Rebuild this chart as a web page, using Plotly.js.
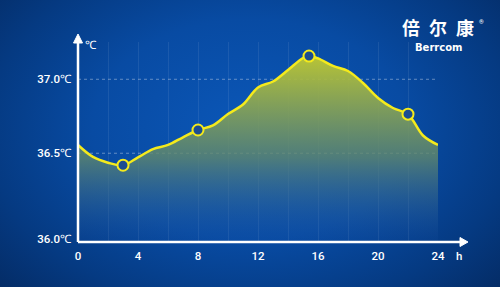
<!DOCTYPE html>
<html>
<head>
<meta charset="utf-8">
<script src="https://cdn.plot.ly/plotly-3.0.1.min.js"></script>
<style>
  html, body { margin:0; padding:0; width:500px; height:287px; overflow:hidden; }
  body { background: radial-gradient(ellipse 70% 85% at 50% 45%, #0b57b8 0%, #084ba3 45%, #053a82 75%, #042a62 100%); }
  #chart { width:500px; height:287px; }
</style>
</head>
<body>
<div id="chart"></div>
<script>
// Data (hour of day vs body temperature, °C)
const hours = [0,1,2,3,4,5,6,7,8,9,10,11,12,13,14,15,15.4,16,17,18,19,20,21,22,23,24];
const temps = [36.556,36.475,36.436,36.419,36.472,36.528,36.556,36.608,36.657,36.688,36.765,36.830,36.945,36.985,37.063,37.144,37.157,37.141,37.090,37.056,36.975,36.874,36.806,36.764,36.620,36.556];
const markerHours = [3, 8, 15.4, 22];
const markerTemps = [36.419, 36.657, 37.157, 36.764];
const xTickVals = [0,4,8,12,16,20,24];
const xTickText = ['0','4','8','12','16','20','24'];
const yTickVals = [35.92, 36.5, 37.0];
const yTickText = ['36.0℃','36.5℃','37.0℃'];
const gridLevels = [36.5, 37.0];

const W = 500, H = 287, L = 78, R = 62, T = 42, B = 45;
const pw = W - L - R, ph = H - T - B;
const px = v => (v - L) / pw;      // pixel -> paper x
const py = v => (H - B - v) / ph;  // pixel -> paper y

const font = {family: 'Roboto, "Open Sans", sans-serif', color: '#ffffff', size: 11.5, weight: 500};

const traces = [
  {
    x: hours, y: temps, type: 'scatter', mode: 'lines',
    line: {color: '#f4ea1c', width: 2.5, shape: 'spline', smoothing: 1.0},
    fill: 'tozeroy',
    fillgradient: {type: 'vertical', start: 35.9, stop: 37.16,
      colorscale: [[0,'rgba(30,85,170,0.08)'],[0.45,'rgba(95,135,110,0.80)'],[1,'rgba(190,200,50,0.97)']]},
    hoverinfo: 'skip'
  },
  {
    x: markerHours, y: markerTemps, type: 'scatter', mode: 'markers',
    marker: {symbol: 'circle', size: 11, color: '#1b4c92', line: {color: '#f4ea1c', width: 2}},
    hoverinfo: 'skip'
  }
];

const shapes = [];
gridLevels.forEach(g => shapes.push({type:'line', xref:'x', yref:'y', x0:0, x1:24, y0:g, y1:g,
  line:{color:'rgba(190,205,230,0.5)', width:1, dash:'dot'}, layer:'below'}));
// axes with arrows
shapes.push({type:'line', xref:'paper', yref:'paper', x0:px(78), x1:px(462), y0:0, y1:0, line:{color:'#ffffff', width:2.5}});
shapes.push({type:'path', xref:'paper', yref:'paper',
  path:`M ${px(460)} ${py(237.5)} L ${px(468)} ${py(242)} L ${px(460)} ${py(246.5)} Z`,
  fillcolor:'#ffffff', line:{color:'#ffffff', width:1}});
shapes.push({type:'line', xref:'paper', yref:'paper', x0:0, x1:0, y0:0, y1:py(40), line:{color:'#ffffff', width:2.5}});
shapes.push({type:'path', xref:'paper', yref:'paper',
  path:`M ${px(73.5)} ${py(43)} L ${px(78)} ${py(34)} L ${px(82.5)} ${py(43)} Z`,
  fillcolor:'#ffffff', line:{color:'#ffffff', width:1}});

const annotations = [
  {xref:'paper', yref:'paper', x:px(459), y:py(256), text:'h', showarrow:false, font:font, xanchor:'center', yanchor:'middle'},
  {xref:'paper', yref:'paper', x:px(91), y:py(45), text:'℃', showarrow:false, font:font, xanchor:'center', yanchor:'middle'},
  {xref:'paper', yref:'paper', x:px(437.5), y:py(27), text:'倍\u2002尔\u2002康', showarrow:false,
   font:{family:'"Noto Sans CJK SC", sans-serif', size:18, color:'#ffffff', weight:700}, xanchor:'center', yanchor:'middle'},
  {xref:'paper', yref:'paper', x:px(481), y:py(22), text:'®', showarrow:false,
   font:{family:'Roboto, sans-serif', size:6, color:'#ffffff'}, xanchor:'center', yanchor:'middle'},
  {xref:'paper', yref:'paper', x:px(439), y:py(47), text:'Berrcom', showarrow:false,
   font:{family:'"DejaVu Sans", sans-serif', size:10, color:'#ffffff', weight:600}, xanchor:'center', yanchor:'middle'}
];

const layout = {
  width: W, height: H,
  margin: {l: L, r: R, t: T, b: B, pad: 0},
  paper_bgcolor: 'rgba(0,0,0,0)', plot_bgcolor: 'rgba(0,0,0,0)',
  showlegend: false,
  font: font,
  xaxis: {range: [0, 24], tickvals: xTickVals, ticktext: xTickText, showgrid: true,
    gridcolor: 'rgba(255,255,255,0.08)', gridwidth: 1,
    minor: {tickvals: [2,6,10,14,18,22], showgrid: true, gridcolor: 'rgba(255,255,255,0.08)', gridwidth: 1},
    zeroline: false, showline: false, ticks: '', ticklabelstandoff: 5, tickfont: font, fixedrange: true},
  yaxis: {range: [35.9, 37.252], tickvals: yTickVals, ticktext: yTickText, showgrid: false,
    zeroline: false, showline: false, ticks: '', ticklabelstandoff: 6, tickfont: font, fixedrange: true},
  shapes: shapes,
  annotations: annotations
};

Plotly.newPlot('chart', traces, layout, {displayModeBar: false, staticPlot: true});
</script>
</body>
</html>
